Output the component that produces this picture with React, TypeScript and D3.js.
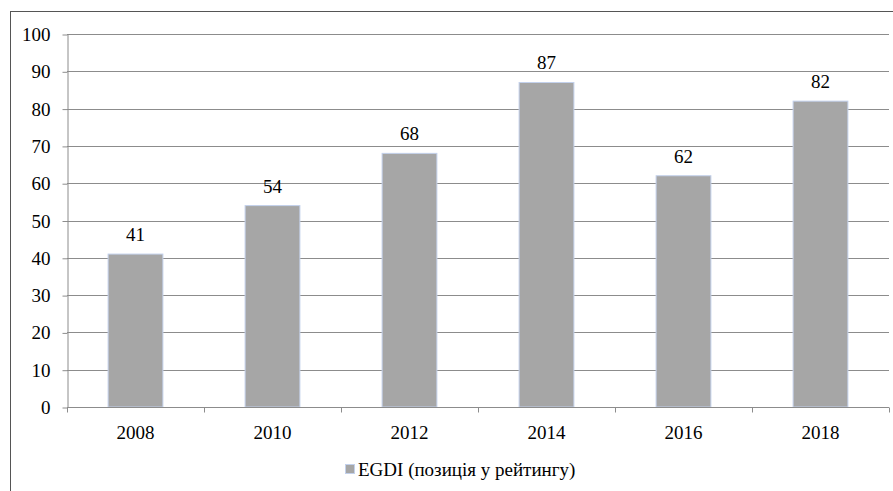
import React, { useEffect, useRef } from 'react';
import * as d3 from 'd3';

const years = ['2008', '2010', '2012', '2014', '2016', '2018'];
const egdiRank = [41, 54, 68, 87, 62, 82];
const yTicks = [0, 10, 20, 30, 40, 50, 60, 70, 80, 90, 100];
const seriesName = 'EGDI (позиція у рейтингу)';

const App: React.FC = () => {
  const ref = useRef<SVGSVGElement | null>(null);

  useEffect(() => {
    if (!ref.current) return;
    const svg = d3.select(ref.current);
    svg.selectAll('*').remove();
    const width = 893;
    const height = 491;
    const margin = { top: 34, right: 4, bottom: 84, left: 67 };
    const font = 'Liberation Serif, DejaVu Serif, Times New Roman, serif';

    svg.attr('width', width).attr('height', height);

    // outer chart frame (runs off the page on the right and bottom)
    svg.append('rect')
      .attr('x', 10.5).attr('y', 11.5)
      .attr('width', 1000).attr('height', 600)
      .attr('fill', 'white')
      .attr('stroke', '#555').attr('stroke-width', 1);

    const x = d3.scaleBand()
      .domain(years)
      .range([margin.left, width - margin.right])
      .paddingInner(0.6)
      .paddingOuter(0.3);

    const band = d3.scaleBand()
      .domain(years)
      .range([margin.left, width - margin.right]);

    const y = d3.scaleLinear()
      .domain([0, 100])
      .range([height - margin.bottom, margin.top]);

    // gridlines
    svg.append('g')
      .selectAll('line')
      .data(yTicks.filter(t => t > 0))
      .enter().append('line')
      .attr('x1', margin.left).attr('x2', width - margin.right)
      .attr('y1', d => Math.round(y(d)) + 0.5).attr('y2', d => Math.round(y(d)) + 0.5)
      .attr('stroke', '#8c8c8c').attr('stroke-width', 1);

    // y axis
    const yAxis = svg.append('g')
      .attr('transform', `translate(${margin.left + 0.5},0.5)`)
      .call(d3.axisLeft(y).tickValues(yTicks).tickSize(5).tickPadding(12).tickSizeOuter(0));
    yAxis.attr('font-family', null).attr('font-size', null);
    yAxis.select('.domain').attr('stroke', '#8c8c8c');
    yAxis.selectAll('.tick line').attr('stroke', '#8c8c8c');
    yAxis.selectAll('.tick text')
      .style('font-family', font).style('font-size', '19px').attr('fill', '#000');

    // bars
    svg.selectAll('.bar')
      .data(years)
      .enter().append('rect')
      .attr('class', 'bar')
      .attr('x', d => x(d) as number)
      .attr('y', (d, i) => y(egdiRank[i]))
      .attr('width', x.bandwidth())
      .attr('height', (d, i) => y(0) - y(egdiRank[i]))
      .attr('fill', '#a6a6a6')
      .attr('stroke', '#c3d1ec').attr('stroke-width', 1);

    // x axis
    const x0 = Math.round(y(0)) + 0.5;
    svg.append('line')
      .attr('x1', margin.left).attr('x2', width - margin.right)
      .attr('y1', x0).attr('y2', x0)
      .attr('stroke', '#8c8c8c');
    svg.append('g')
      .selectAll('line')
      .data([...years.map(d => band(d) as number), width - margin.right])
      .enter().append('line')
      .attr('x1', d => Math.round(d) + 0.5).attr('x2', d => Math.round(d) + 0.5)
      .attr('y1', x0).attr('y2', x0 + 5)
      .attr('stroke', '#8c8c8c');
    svg.append('g')
      .selectAll('text')
      .data(years)
      .enter().append('text')
      .attr('x', d => (band(d) as number) + band.bandwidth() / 2)
      .attr('y', x0 + 31)
      .attr('text-anchor', 'middle')
      .style('font-family', font).style('font-size', '19px')
      .text(d => d);

    // value labels
    svg.selectAll('.val')
      .data(years)
      .enter().append('text')
      .attr('class', 'val')
      .attr('x', d => (x(d) as number) + x.bandwidth() / 2)
      .attr('y', (d, i) => y(egdiRank[i]) - 13)
      .attr('text-anchor', 'middle')
      .style('font-family', font).style('font-size', '19px')
      .text((d, i) => egdiRank[i]);

    // legend
    const legend = svg.append('g').attr('transform', 'translate(345,464)');
    legend.append('rect')
      .attr('x', 0.5).attr('y', 0.5).attr('width', 9).attr('height', 9)
      .attr('fill', '#a6a6a6').attr('stroke', '#c3d1ec');
    legend.append('text')
      .attr('x', 13).attr('y', 12)
      .style('font-family', font).style('font-size', '19px')
      .text(seriesName);
  }, []);

  return <svg ref={ref} style={{ position: 'absolute', left: 0, top: 0 }} />;
};

export default App;
